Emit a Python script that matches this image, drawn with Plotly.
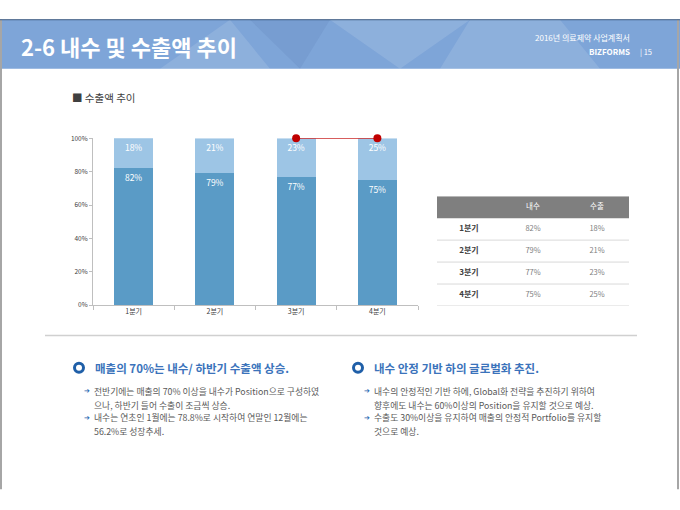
# 2-6 내수 및 수출액 추이 - 분기별 내수/수출 비중 차트

import plotly.graph_objects as go

# 분기별 비중 (내수 + 수출 = 100%)
quarters = ["1분기", "2분기", "3분기", "4분기"]
domestic = [0.82, 0.79, 0.77, 0.75]
export = [0.18, 0.21, 0.23, 0.25]

# 빨간 선으로 강조된 분기
marked_quarters = ["3분기", "4분기"]
marked_values = [1.0, 1.0]

# 표 열 / 헤더
table_columns = ["분기", "내수", "수출"]
table_header = "구분"

# 하단 설명 문구
left_heading = "매출의 70%는 내수/ 하반기 수출액 상승."
left_lines = [
    "전반기에는 매출의 70% 이상을 내수가 Position으로 구성하였",
    "으나, 하반기 들어 수출이 조금씩 상승.",
    "내수는 연초인 1월에는 78.8%로 시작하여 연말인 12월에는",
    "56.2%로 성장추세.",
]
right_heading = "내수 안정 기반 하의 글로벌화 추진."
right_lines = [
    "내수의 안정적인 기반 하에, Global화 전략을 추진하기 위하여",
    "향후에도 내수는 60%이상의 Position을 유지할 것으로 예상.",
    "수출도 30%이상을 유지하여 매출의 안정적 Portfolio를 유지할",
    "것으로 예상.",
]

W, H = 680, 510
FONT = "Noto Sans CJK KR"


def px(x):
    return x / W


def py(y):
    return 1 - y / H


fig = go.Figure()

# 누적 막대
fig.add_trace(go.Bar(
    x=quarters, y=domestic, name="내수",
    marker=dict(color="#5a9bc6", line_width=0),
    texttemplate="%{y:.0%}", textposition="inside", insidetextanchor="end",
    textfont=dict(color="white", size=8.5, family=FONT),
))
fig.add_trace(go.Bar(
    x=quarters, y=export, name="수출",
    marker=dict(color="#9dc5e5", line_width=0),
    texttemplate="%{y:.0%}", textposition="inside", insidetextanchor="end",
    textfont=dict(color="white", size=8.5, family=FONT),
))
fig.add_trace(go.Scatter(
    x=marked_quarters, y=marked_values, mode="lines+markers",
    line=dict(color="#c00000", width=1),
    marker=dict(color="#c00000", size=8),
    cliponaxis=False,
))

# 표 (x2 / y2 축 위의 텍스트)
fig.add_trace(go.Scatter(
    x=table_columns[1:], y=[table_header] * 2, text=table_columns[1:],
    mode="text", textfont=dict(color="white", size=7.5, family=FONT),
    xaxis="x2", yaxis="y2",
))
fig.add_trace(go.Scatter(
    x=[table_columns[0]] * len(quarters), y=quarters, text=quarters,
    mode="text", textfont=dict(color="#404040", size=8, family=FONT, weight="bold"),
    xaxis="x2", yaxis="y2",
))
fig.add_trace(go.Scatter(
    x=[table_columns[1]] * len(quarters) + [table_columns[2]] * len(quarters),
    y=quarters + quarters,
    text=[f"{v:.0%}" for v in domestic + export],
    mode="text", textfont=dict(color="#808080", size=7.5, family=FONT),
    xaxis="x2", yaxis="y2",
))

shapes = []
# 슬라이드 테두리
shapes.append(dict(type="line", xref="paper", yref="paper", x0=px(1), x1=px(1),
                   y0=py(14), y1=py(493), line=dict(color="#a6a6a6", width=2)))
shapes.append(dict(type="line", xref="paper", yref="paper", x0=px(678), x1=px(678),
                   y0=py(14), y1=py(493), line=dict(color="#a6a6a6", width=2)))
# 헤더 띠
shapes.append(dict(type="rect", xref="paper", yref="paper", x0=0, x1=1,
                   y0=py(64), y1=py(14), fillcolor="#7ea5d8", line_width=0, layer="below"))
facets = [
    "M {} {} L {} {} L {} {} Z".format(px(160), py(64), px(230), py(14), px(270), py(64)),
    "M {} {} L {} {} L {} {} Z".format(px(330), py(14), px(470), py(14), px(400), py(64)),
    "M {} {} L {} {} L {} {} L {} {} Z".format(px(470), py(14), px(560), py(14), px(600), py(64), px(440), py(64)),
]
for p in facets:
    shapes.append(dict(type="path", xref="paper", yref="paper", path=p,
                       fillcolor="rgba(255,255,255,0.12)", line_width=0, layer="below"))
shapes.append(dict(type="path", xref="paper", yref="paper",
                   path="M {} {} L {} {} L {} {} Z".format(px(250), py(14), px(330), py(14), px(300), py(64)),
                   fillcolor="rgba(40,70,130,0.08)", line_width=0, layer="below"))
shapes.append(dict(type="line", xref="paper", yref="paper", x0=0, x1=1,
                   y0=py(14), y1=py(14), line=dict(color="#3d5a80", width=1)))
# 구분선
shapes.append(dict(type="line", xref="paper", yref="paper", x0=px(45), x1=px(637),
                   y0=py(336), y1=py(336), line=dict(color="#d0d0d0", width=1.5)))
# 표 헤더 배경과 행 구분선
shapes.append(dict(type="rect", xref="x2", yref="y2", x0=-0.5, x1=2.5, y0=-0.5, y1=0.5,
                   fillcolor="#7f7f7f", line_width=0, layer="below"))
for i in range(len(quarters)):
    shapes.append(dict(type="line", xref="x2", yref="y2", x0=-0.5, x1=2.5,
                       y0=i + 1.5, y1=i + 1.5, line=dict(color="#d9d9d9", width=1)))
# 원형 아이콘
for cx in (79, 358):
    shapes.append(dict(type="circle", xref="paper", yref="paper",
                       x0=px(cx - 4.5), x1=px(cx + 4.5), y0=py(369 + 4.5), y1=py(369 - 4.5),
                       fillcolor="white", line=dict(color="#1f5fa8", width=3)))

annotations = []


def note(x, y, text, size, color, xanchor="left", **kw):
    annotations.append(dict(xref="paper", yref="paper", x=px(x), y=py(y), text=text,
                            showarrow=False, xanchor=xanchor, yanchor="middle",
                            font=dict(size=size, color=color, family=kw.get("family", FONT),
                                      weight=kw.get("weight", "normal"))))


note(19, 41, "2-6 내수 및 수출액 추이", 22, "white", weight="bold")
note(632, 32, "2016년 의료제약 사업계획서", 8, "white", xanchor="right")
note(632, 46, "BIZFORMS", 8, "white", xanchor="right", weight="bold")
note(638, 46, "| 15", 7.5, "white")
note(70, 93, "■ 수출액 추이", 10.5, "#404040")

note(93, 369, left_heading, 11.5, "#3b73bb", weight="bold")
note(372, 369, right_heading, 11.5, "#3b73bb", weight="bold")

line_y = [393, 407, 420, 434]
for i, (lt, rt) in enumerate(zip(left_lines, right_lines)):
    note(92, line_y[i], lt, 8.8, "#595959")
    note(372, line_y[i], rt, 8.8, "#595959")
    if i in (0, 2):
        note(82, line_y[i], "➔", 7, "#2e6db4", family="DejaVu Sans")
        note(362, line_y[i], "➔", 7, "#2e6db4", family="DejaVu Sans")

fig.update_layout(
    width=W, height=H, autosize=False,
    margin=dict(l=0, r=0, t=0, b=0),
    paper_bgcolor="white", plot_bgcolor="rgba(0,0,0,0)",
    barmode="stack", bargap=0.52, showlegend=False,
    font=dict(family=FONT, color="#595959"),
    xaxis=dict(domain=[px(93), px(418)], showline=True, linecolor="#bfbfbf",
               ticks="outside", tickson="boundaries", ticklen=4, tickcolor="#bfbfbf",
               tickfont=dict(size=7, color="#404040"), showgrid=False, fixedrange=True),
    yaxis=dict(domain=[py(305), py(135)], range=[0, 1], tickvals=[0, 0.2, 0.4, 0.6, 0.8, 1.0],
               tickformat=".0%", showline=True, linecolor="#bfbfbf", ticks="outside",
               ticklen=3, tickcolor="#bfbfbf", tickfont=dict(size=6.5, color="#404040"),
               showgrid=False, zeroline=False, fixedrange=True),
    xaxis2=dict(domain=[px(437), px(629)], anchor="y2", type="category",
                categoryarray=table_columns, categoryorder="array", range=[-0.5, 2.5],
                visible=False, fixedrange=True),
    yaxis2=dict(domain=[py(306), py(194)], anchor="x2", type="category",
                categoryarray=[table_header] + quarters, categoryorder="array",
                range=[4.5, -0.5], visible=False, fixedrange=True),
    shapes=shapes,
    annotations=annotations,
)

# 페이지 기본 여백을 없애 그림이 창에 꼭 맞도록
fig.write_html("out.html", config={"displayModeBar": False},
               post_script="document.body.style.margin='0';")
